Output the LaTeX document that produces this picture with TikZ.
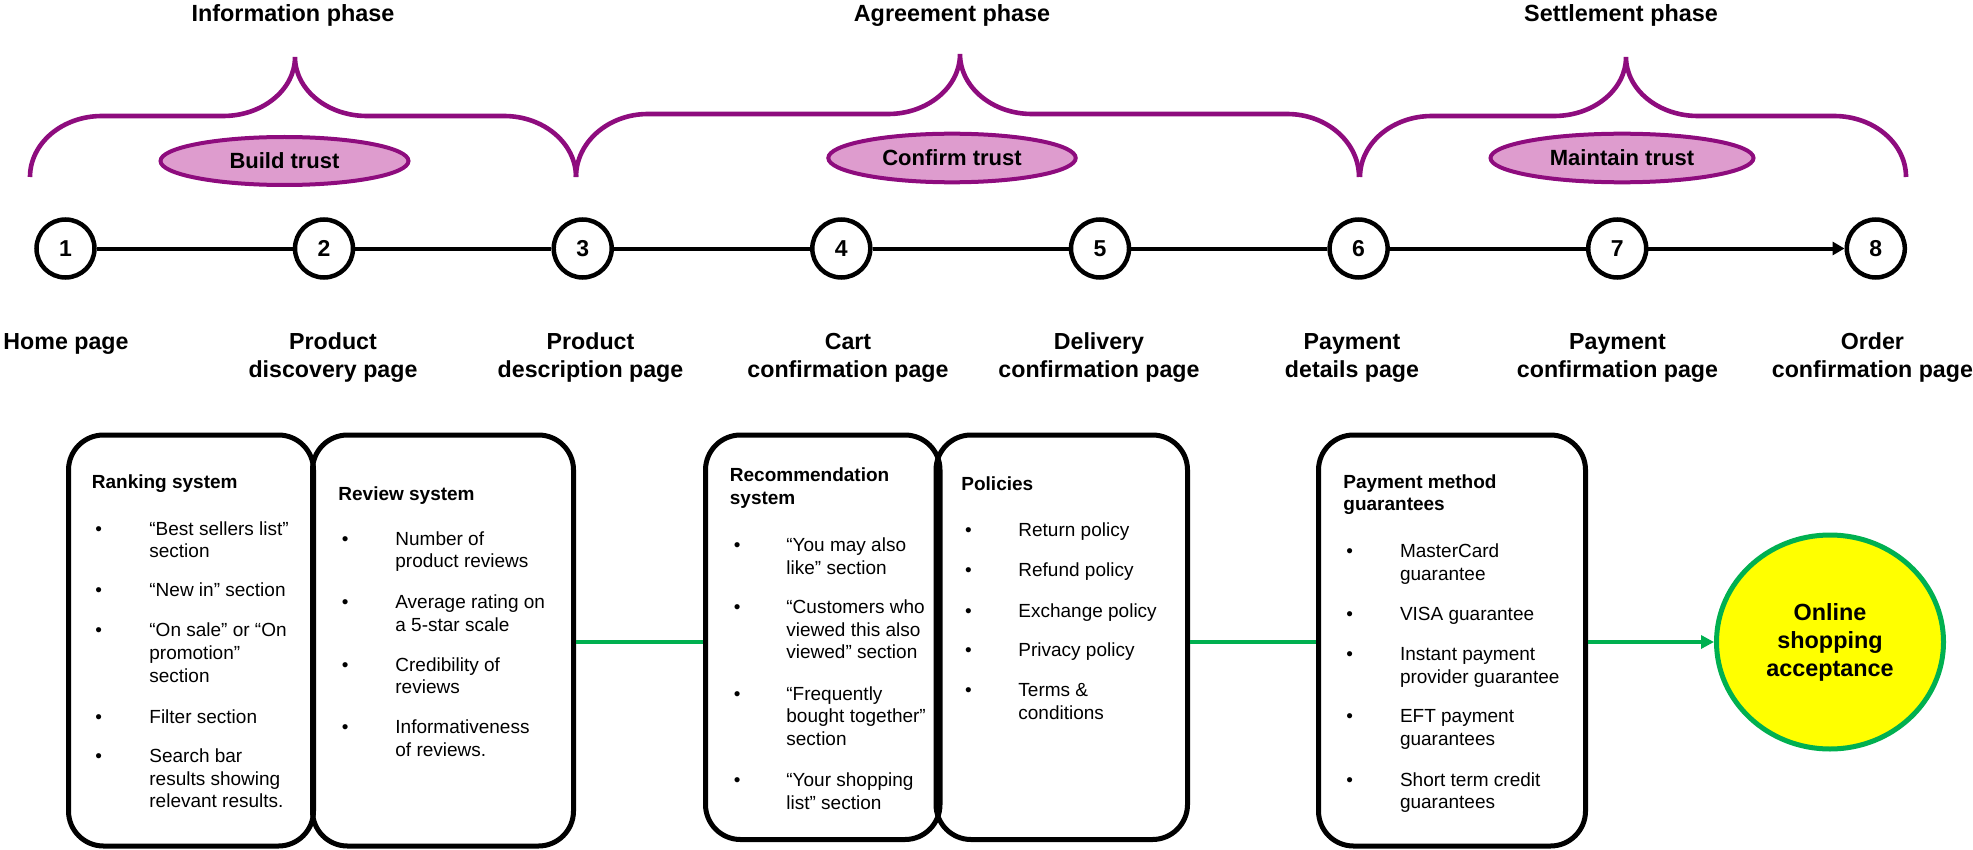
\documentclass[tikz,border=0pt]{standalone}
\usepackage{fontspec}
\setmainfont{Liberation Sans}
\usetikzlibrary{arrows.meta,shapes.geometric}

\definecolor{bracepurple}{RGB}{142,12,126}
\definecolor{trustpink}{RGB}{222,156,206}
\definecolor{flowgreen}{RGB}{0,176,80}
\definecolor{acceptyellow}{RGB}{255,255,0}

\tikzset{
  phasebrace/.style={draw=bracepurple, line width=2.3pt},
  trust/.style={ellipse, draw=bracepurple, fill=trustpink, line width=2pt, inner sep=0,
    font=\fontsize{11}{13}\bfseries\selectfont},
  stepnum/.style={circle, draw, line width=2.25pt, minimum size=29pt, inner sep=0,
    font=\fontsize{11.5}{13}\bfseries\selectfont},
  tline/.style={line width=2pt},
  pagelabel/.style={anchor=base, inner sep=0,
    font=\fontsize{11.6}{14}\bfseries\selectfont},
  phasetitle/.style={anchor=base, inner sep=0,
    font=\fontsize{11.7}{14}\bfseries\selectfont},
  panel/.style={draw, line width=2.5pt, rounded corners=17.5pt, inner sep=0},
  panelhead/.style={anchor=base west, inner sep=0,
    font=\fontsize{9.5}{11.3}\bfseries\selectfont},
  bodytext/.style={anchor=base west, inner sep=0,
    font=\fontsize{9.5}{11.4}\selectfont},
  gline/.style={draw=flowgreen, line width=2pt},
  accept/.style={ellipse, draw=flowgreen, fill=acceptyellow, line width=2.5pt, inner sep=0,
    align=center, font=\fontsize{11.7}{14}\bfseries\selectfont},
}

% line stacks whose baseline is that of their first line
\newcommand\leftlines[1]{\begin{tabular}[t]{@{}l@{}}#1\end{tabular}}
\newcommand\centerlines[1]{\begin{tabular}[t]{@{}c@{}}#1\end{tabular}}

% curly brace: left x, tip x, right x, horizontal y, tip y (ends sit at y = 177)
\newcommand\drawbrace[5]{%
  \draw[phasebrace] (#1,177)
    .. controls (#1,{177-0.552*(177-#4)}) and ({#1+0.448*72},#4) .. ({#1+72},#4)
    -- ({#2-72},#4)
    .. controls ({#2-0.448*72},#4) and (#2,{#5+0.552*(#4-#5)}) .. (#2,#5)
    .. controls (#2,{#5+0.552*(#4-#5)}) and ({#2+0.448*72},#4) .. ({#2+72},#4)
    -- ({#3-72},#4)
    .. controls ({#3-0.448*72},#4) and (#3,{177-0.552*(177-#4)}) .. (#3,177);}

% bulleted entry: name, bullet x, text x, first baseline y, text
\newcommand\listitem[5]{%
  \node[bodytext] (#1dot) at (#2,#4) {•};
  \node[bodytext] (#1) at (#3,#4) {\leftlines{#5}};}

\begin{document}
\begin{tikzpicture}[x=0.5pt,y=-0.5pt]
\useasboundingbox (0,0) rectangle (1973,850);

% phase titles and braces
\node[phasetitle] (ph1) at (293,21.5) {Information phase};
\node[phasetitle] (ph2) at (952,21.5) {Agreement phase};
\node[phasetitle] (ph3) at (1621,21.5) {Settlement phase};

\drawbrace{30}{295}{576}{116}{57}
\drawbrace{576}{960}{1359}{114}{54}
\drawbrace{1360}{1626}{1906}{116}{57}

\node[trust, minimum width=124pt, minimum height=24pt] (t1) at (284.5,161) {Build trust};
\node[trust, minimum width=123.7pt, minimum height=24.3pt] (t2) at (952,158) {Confirm trust};
\node[trust, minimum width=131.5pt, minimum height=24.3pt] (t3) at (1622,158) {Maintain trust};

% timeline
\foreach \i/\x in {1/65.5,2/324,3/582.7,4/841.3,5/1100,6/1358.6,7/1617.2,8/1875.8}
  \node[stepnum] (n\i) at (\x,248.5) {\i};
\foreach \a/\b in {1/2,2/3,3/4,4/5,5/6,6/7}
  \draw[tline] (n\a) -- (n\b);
\draw[tline,-{Triangle[length=6pt,width=6.5pt]}] (n7) -- (n8);

% page labels
\node[pagelabel] (l1) at (66,349) {Home page};
\node[pagelabel] (l2) at (333,349) {\centerlines{Product\\discovery page}};
\node[pagelabel] (l3) at (590.5,349) {\centerlines{Product\\description page}};
\node[pagelabel] (l4) at (848,349) {\centerlines{Cart\\confirmation page}};
\node[pagelabel] (l5) at (1099,349) {\centerlines{Delivery\\confirmation page}};
\node[pagelabel] (l6) at (1352,349) {\centerlines{Payment\\details page}};
\node[pagelabel] (l7) at (1617.5,349) {\centerlines{Payment\\confirmation page}};
\node[pagelabel] (l8) at (1872.4,349) {\centerlines{Order\\confirmation page}};

% panels
\node[panel, minimum width=122.5pt, minimum height=205.5pt] (A) at (191,640.5) {};
\node[panel, minimum width=130.5pt, minimum height=205.5pt] (B) at (443,640.5) {};
\node[panel, minimum width=117.25pt, minimum height=202.25pt] (C) at (822.75,637.25) {};
\node[panel, minimum width=125.75pt, minimum height=202.25pt] (D) at (1061.75,637.25) {};
\node[panel, minimum width=133.5pt, minimum height=205.5pt] (E) at (1452,640.5) {};

% panel A
\node[panelhead] (Ah) at (91.5,488) {Ranking system};
\listitem{a1}{95}{149}{535}{“Best sellers list”\\section}
\listitem{a2}{95}{149}{596.7}{“New in” section}
\listitem{a3}{95}{149}{636.7}{“On sale” or “On\\promotion”\\section}
\listitem{a4}{95}{149}{723.3}{Filter section}
\listitem{a5}{95}{149}{762.3}{Search bar\\results showing\\relevant results.}

% panel B
\node[panelhead] (Bh) at (338,500) {Review system};
\listitem{b1}{341.5}{395}{545}{Number of\\product reviews}
\listitem{b2}{341.5}{395}{608.3}{Average rating on\\a 5-star scale}
\listitem{b3}{341.5}{395}{671}{Credibility of\\reviews}
\listitem{b4}{341.5}{395}{733.3}{Informativeness\\of reviews.}

% panel C
\node[panelhead] (Ch) at (729.5,481.7) {\leftlines{Recommendation\\system}};
\listitem{c1}{733.5}{786}{551.7}{“You may also\\like” section}
\listitem{c2}{733.5}{786}{613.3}{“Customers who\\viewed this also\\viewed” section}
\listitem{c3}{733.5}{786}{700}{“Frequently\\bought together”\\section}
\listitem{c4}{733.5}{786}{786.7}{“Your shopping\\list” section}

% panel D
\node[panelhead] (Dh) at (961,490.7) {Policies};
\listitem{d1}{964.7}{1018}{536.7}{Return policy}
\listitem{d2}{964.7}{1018}{576.7}{Refund policy}
\listitem{d3}{964.7}{1018}{617.3}{Exchange policy}
\listitem{d4}{964.7}{1018}{656.7}{Privacy policy}
\listitem{d5}{964.7}{1018}{696.7}{Terms \&\\conditions}

% panel E
\node[panelhead] (Eh) at (1343,488.3) {\leftlines{Payment method\\guarantees}};
\listitem{e1}{1346}{1399.6}{557.7}{MasterCard\\guarantee}
\listitem{e2}{1346}{1399.6}{620}{VISA guarantee}
\listitem{e3}{1346}{1399.6}{660.7}{Instant payment\\provider guarantee}
\listitem{e4}{1346}{1399.6}{722.7}{EFT payment\\guarantees}
\listitem{e5}{1346}{1399.6}{786}{Short term credit\\guarantees}

% outcome
\node[accept, minimum width=113.5pt, minimum height=107pt] (acc) at (1830,642) {Online\\shopping\\acceptance};

% green flow
\draw[gline] (B.east |- acc.west) -- (C.west |- acc.west);
\draw[gline] (D.east |- acc.west) -- (E.west |- acc.west);
\draw[gline,-{Triangle[length=6.5pt,width=6.5pt]}] (E.east |- acc.west) -- (acc.west);
\end{tikzpicture}
\end{document}
